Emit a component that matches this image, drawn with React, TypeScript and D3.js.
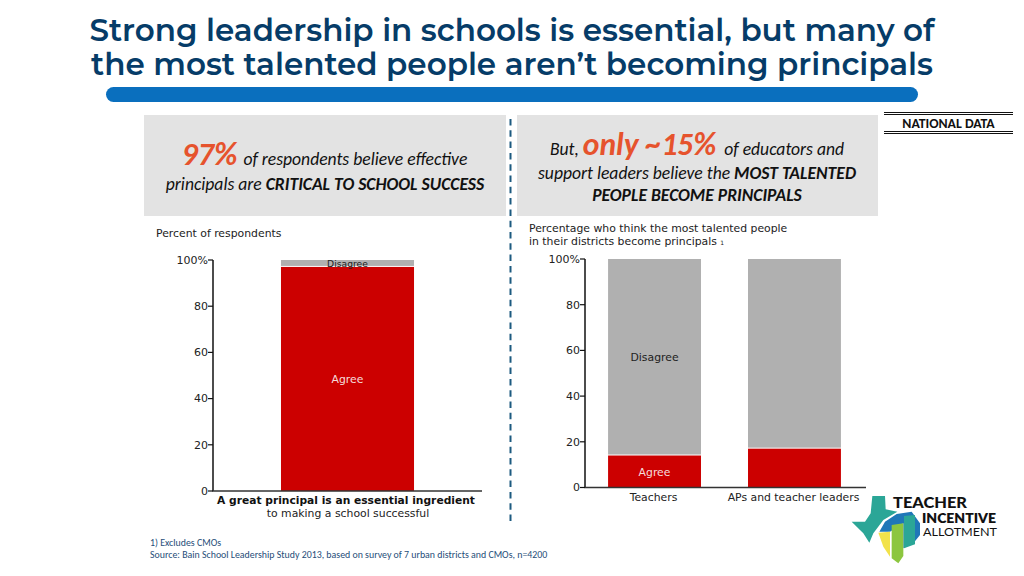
import React from "react";
import * as d3 from "d3";

const titleLines = ["Strong leadership in schools is essential, but many of", "the most talented people aren’t becoming principals"];
const ticks = [0, 20, 40, 60, 80, 100];
const leftCategories = ["A great principal"];
const leftAgree = [97];
const leftDisagree = [3];
const rightCategories = ["Teachers", "APs and teacher leaders"];
const rightAgree = [14, 17];
const rightDisagree = [86, 83];
const RED = "#cc0000";
const GREY = "#b0b0b0";
const VERDANA = "'DejaVu Sans', Verdana, sans-serif";
const LATO = "Carlito, Lato, sans-serif";
const FS = 10.85;

function Axis({ x, y, tickLen = 5, end }: any) {
  return (
    <g fontFamily={VERDANA} fontSize={11} fill="#222">
      <line x1={x} x2={x} y1={y(100)} y2={y(0)} stroke="#111" strokeWidth={1.5} />
      <line x1={x - 0.7} x2={end} y1={y(0)} y2={y(0)} stroke="#333" strokeWidth={1.5} />
      {ticks.map((t) => (
        <g key={t}>
          <line x1={x - tickLen} x2={x} y1={y(t)} y2={y(t)} stroke="#111" strokeWidth={1.2} />
          <text x={x - tickLen} y={y(t) + 3.8} textAnchor="end">{t === 100 ? "100%" : t}</text>
        </g>
      ))}
    </g>
  );
}

function Logo() {
  const px = (pts: number[][]) => pts.map(([a, b]) => `${840 + a / 3},${480 + b / 3}`).join(" ");
  return (
    <g>
      <polygon points={px([[97, 48], [135, 48], [137, 88], [172, 95], [130, 120], [100, 160], [88, 188], [70, 160], [60, 150], [35, 125], [75, 125], [92, 100]])} fill="#2ba697" />
      <polygon points={px([[118, 155], [135, 125], [170, 102], [215, 95], [240, 130], [240, 165], [220, 190], [190, 205], [190, 130], [150, 155]])} fill="#1f77b8" />
      <polygon points={px([[192, 108], [225, 105], [225, 193], [192, 205]])} fill="#2ba697" />
      <polygon points={px([[155, 135], [190, 130], [190, 228], [175, 250], [155, 235]])} fill="#8cc63f" />
      <polygon points={px([[115, 158], [150, 155], [150, 230], [130, 200]])} fill="#f2e24a" />
      <g fontFamily="Lato, sans-serif" fill="#111">
        <text x={893} y={508} fontSize={15} fontWeight={900} textLength={74} lengthAdjust="spacingAndGlyphs">TEACHER</text>
        <text x={922} y={523} fontSize={13.5} fontWeight={800} textLength={74} lengthAdjust="spacingAndGlyphs">INCENTIVE</text>
        <text x={923} y={536} fontSize={12} fontWeight={400} textLength={74} lengthAdjust="spacingAndGlyphs">ALLOTMENT</text>
      </g>
    </g>
  );
}

export default function App() {
  const yL = d3.scaleLinear().domain([0, 100]).range([491, 260]);
  const yR = d3.scaleLinear().domain([0, 100]).range([487.5, 259]);
  const xL = d3.scaleBand().domain(leftCategories).range([213, 482]).paddingInner(0).paddingOuter(0.511);
  const xR = d3.scaleBand().domain(rightCategories).range([584, 865]).paddingInner(0.336).paddingOuter(0.172);

  return (
    <svg width={1024} height={576} style={{ position: "absolute", left: 0, top: 0, background: "#fff" }}>
      <g fontFamily="Montserrat, Inter, sans-serif" fontWeight={600} fontSize={32} fill="#063c68" textAnchor="middle">
        {titleLines.map((t, i) => (
          <text key={i} x={512} y={41 + i * 33.5} textLength={i === 0 ? 845 : 842} lengthAdjust="spacingAndGlyphs">{t}</text>
        ))}
      </g>
      <rect x={106} y={87} width={812} height={15} rx={7.5} fill="#0a6fbe" />

      <line x1={884} x2={1013} y1={112.5} y2={112.5} stroke="#111" strokeWidth={1} />
      <line x1={884} x2={1013} y1={114.5} y2={114.5} stroke="#111" strokeWidth={1} />
      <line x1={884} x2={1013} y1={131.5} y2={131.5} stroke="#111" strokeWidth={1} />
      <line x1={884} x2={1013} y1={133.5} y2={133.5} stroke="#111" strokeWidth={1} />
      <text x={948.5} y={128} textAnchor="middle" fontFamily={LATO} fontWeight={700} fontSize={13.8} fill="#111">NATIONAL DATA</text>

      <rect x={144} y={115} width={362} height={101} fill="#e3e3e3" />
      <rect x={517} y={115} width={361} height={101} fill="#e3e3e3" />
      <line x1={510.5} x2={510.5} y1={119} y2={524} stroke="#1c5a80" strokeWidth={2} strokeDasharray="6.5 4.8" />

      <g fontFamily={LATO} fontStyle="italic" fill="#111" textAnchor="middle" fontSize={17.6}>
        <text x={324.5} y={165}>
          <tspan fontSize={32} fontWeight={700} fill="#e6532d">97%</tspan>
          <tspan dx={6}>of respondents believe effective</tspan>
        </text>
        <text x={325} y={190}>principals are <tspan fontWeight={700}>CRITICAL TO SCHOOL SUCCESS</tspan></text>
        <text x={697} y={155}>But, <tspan fontSize={31.5} fontWeight={700} fill="#e6532d">only ~15%</tspan><tspan dx={4}> of educators and</tspan></text>
        <text x={697} y={179}>support leaders believe the <tspan fontWeight={700}>MOST TALENTED</tspan></text>
        <text x={697} y={201} fontWeight={700}>PEOPLE BECOME PRINCIPALS</text>
      </g>

      <g fontFamily={VERDANA} fontSize={FS} fill="#222">
        <text x={156} y={237}>Percent of respondents</text>
        <text x={529} y={232}>Percentage who think the most talented people</text>
        <text x={529} y={245}>in their districts become principals <tspan fontSize={6}>1</tspan></text>
      </g>

      {leftCategories.map((c, i) => (
        <g key={c}>
          <rect x={xL(c)} width={xL.bandwidth()} y={yL(leftAgree[i])} height={yL(0) - yL(leftAgree[i])} fill={RED} />
          <rect x={xL(c)} width={xL.bandwidth()} y={yL(100)} height={yL(100 - leftDisagree[i]) - yL(100) - 1} fill={GREY} />
          <text x={xL(c)! + xL.bandwidth() / 2} y={383} textAnchor="middle" fontFamily={VERDANA} fontSize={FS} fill="#f5dcdc">Agree</text>
          <text x={xL(c)! + xL.bandwidth() / 2} y={267} textAnchor="middle" fontFamily={VERDANA} fontSize={9.2} fill="#222">Disagree</text>
        </g>
      ))}
      <Axis x={213} y={yL} end={482} />
      <g fontFamily={VERDANA} fontSize={FS} fill="#222" textAnchor="middle">
        <text x={346} y={504} fontWeight={700} fill="#111" fontSize={10.7}>A great principal is an essential ingredient</text>
        <text x={348} y={517}>to making a school successful</text>
      </g>

      {rightCategories.map((c, i) => (
        <g key={c}>
          <rect x={xR(c)} width={xR.bandwidth()} y={yR(rightAgree[i])} height={yR(0) - yR(rightAgree[i])} fill={RED} />
          <rect x={xR(c)} width={xR.bandwidth()} y={yR(100)} height={yR(rightAgree[i]) - yR(100) - 1} fill={GREY} />
          <text x={xR(c)! + xR.bandwidth() / 2 - 1} y={501} textAnchor="middle" fontFamily={VERDANA} fontSize={FS} fill="#222">{c}</text>
        </g>
      ))}
      <text x={xR(rightCategories[0])! + xR.bandwidth() / 2} y={476} textAnchor="middle" fontFamily={VERDANA} fontSize={FS} fill="#f5dcdc">Agree</text>
      <text x={xR(rightCategories[0])! + xR.bandwidth() / 2} y={361} textAnchor="middle" fontFamily={VERDANA} fontSize={FS} fill="#222">Disagree</text>
      <Axis x={585} y={yR} end={866} />

      <g fontFamily={LATO} fontSize={9.9} fill="#1f4e79">
        <text x={150} y={546}>1) Excludes CMOs</text>
        <text x={150} y={558}>Source: Bain School Leadership Study 2013, based on survey of 7 urban districts and CMOs, n=4200</text>
      </g>
      <Logo />
    </svg>
  );
}
